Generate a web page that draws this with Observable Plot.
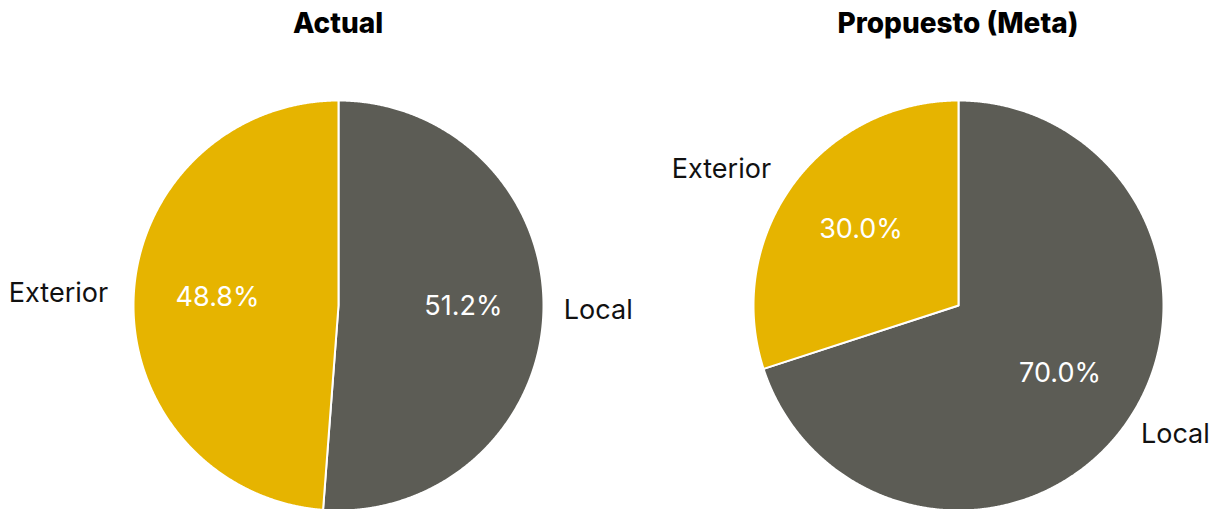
<!DOCTYPE html>
<html>
<head>
<meta charset="utf-8">
<script src="https://cdn.jsdelivr.net/npm/d3@7"></script>
<script src="https://cdn.jsdelivr.net/npm/@observablehq/plot@0.6"></script>
<style>
  html, body { margin: 0; padding: 0; background: #fff; }
  body { width: 1221px; height: 509px; overflow: hidden; font-family: Inter, "Noto Sans", sans-serif; }
  #wrap { display: flex; flex-direction: row; }
  .col { position: relative; overflow: visible; }
  .title { width: 676px; height: 46px; line-height: 46px; text-align: center; font-weight: 800; font-size: 28px; color: #000; white-space: nowrap; }
  svg { overflow: visible; }
</style>
</head>
<body>
<div id="wrap"></div>
<script>
// ---- data ----
const panels = ["Actual", "Propuesto (Meta)"];
const categories = ["Local", "Exterior"];
const actualValues = [51.2, 48.8];
const metaValues = [70.0, 30.0];
const colors = ["#5c5c55", "#e6b400"];

const seriesValues = [actualValues, metaValues];
const panelWidths = [620, 601];
const R = 205;        // pie radius in px
const CX = 338;       // pie centre from column's left edge
const H = 463;        // svg height
const CY = 259;       // pie centre from svg top

const wrap = document.getElementById("wrap");

panels.forEach((title, pi) => {
  const values = seriesValues[pi];
  const W = panelWidths[pi];
  const total = d3.sum(values);
  let start = 0;
  const slices = categories.map((c, i) => {
    const a0 = start;
    const a1 = start + (values[i] / total) * 2 * Math.PI;
    start = a1;
    return { label: c, value: values[i], a0, a1, mid: (a0 + a1) / 2 };
  });
  const polys = [];
  slices.forEach(s => {
    polys.push({ label: s.label, x: 0, y: 0 });
    const n = Math.max(2, Math.ceil((s.a1 - s.a0) / (Math.PI / 720)));
    for (let k = 0; k <= n; k++) {
      const a = s.a0 + (s.a1 - s.a0) * k / n;
      polys.push({ label: s.label, x: Math.sin(a), y: Math.cos(a) });
    }
    polys.push({ label: s.label, x: 0, y: 0 });
  });
  const pct = slices.map(s => ({ text: s.value.toFixed(1) + "%", x: 0.6 * Math.sin(s.mid), y: 0.6 * Math.cos(s.mid) }));
  const outer = slices.map(s => ({ text: s.label, x: 1.1 * Math.sin(s.mid), y: 1.1 * Math.cos(s.mid), anchor: Math.sin(s.mid) >= 0 ? "start" : "end" }));

  const chart = Plot.plot({
    width: W,
    height: H,
    margin: 0,
    style: { fontFamily: "Inter, 'Noto Sans', sans-serif", overflow: "visible", background: "transparent" },
    x: { domain: [-CX / R, (W - CX) / R], range: [0, W], axis: null },
    y: { domain: [-(H - CY) / R, CY / R], range: [H, 0], axis: null },
    color: { domain: categories, range: colors },
    marks: [
      Plot.line(polys, { x: "x", y: "y", z: "label", fill: "label", stroke: "white", strokeWidth: 2, strokeLinejoin: "round", curve: "linear" }),
      Plot.text(pct, { x: "x", y: "y", text: "text", fill: "white", fontSize: 27, dx: 2, dy: -4 }),
      Plot.text(outer.filter(d => d.anchor === "start"), { x: "x", y: "y", text: "text", fill: "#111", fontSize: 27, textAnchor: "start", dy: -4 }),
      Plot.text(outer.filter(d => d.anchor === "end"), { x: "x", y: "y", text: "text", fill: "#111", fontSize: 27, textAnchor: "end", dx: -5, dy: -4 })
    ]
  });

  const col = document.createElement("div");
  col.className = "col";
  col.style.width = W + "px";
  const t = document.createElement("div");
  t.className = "title";
  t.textContent = title;
  col.appendChild(t);
  col.appendChild(chart);
  wrap.appendChild(col);
});
</script>
</body>
</html>
